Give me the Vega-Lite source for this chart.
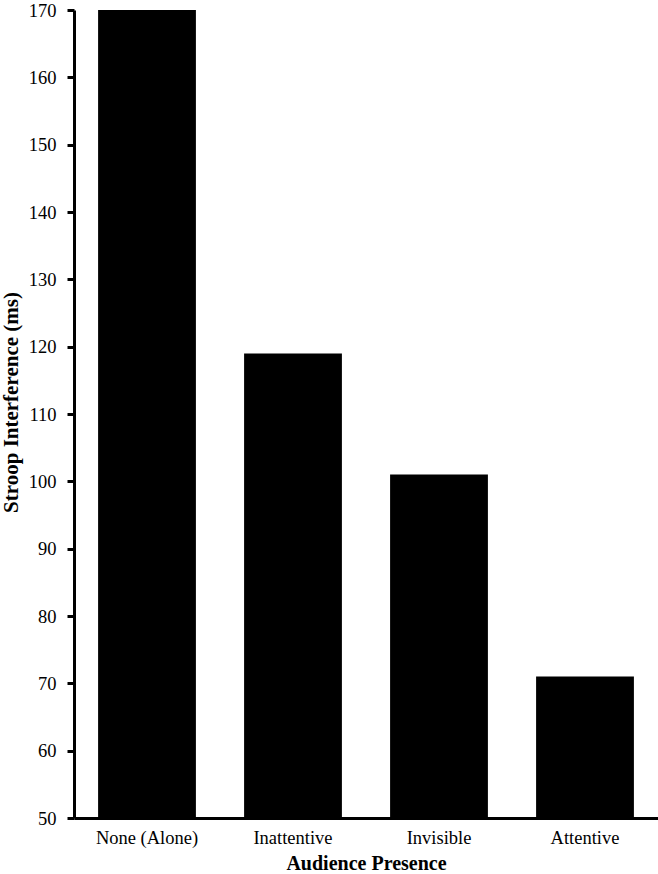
{
  "$schema": "https://vega.github.io/schema/vega-lite/v6.json",
  "width": 584,
  "height": 808,
  "autosize": "none",
  "padding": {"left": 74, "top": 10, "right": 0, "bottom": 56},
  "background": "white",
  "data": {
    "values": [
      {"presence": "None (Alone)", "interference": 170},
      {"presence": "Inattentive", "interference": 119},
      {"presence": "Invisible", "interference": 101},
      {"presence": "Attentive", "interference": 71}
    ]
  },
  "mark": {"type": "bar", "color": "black", "clip": true},
  "encoding": {
    "x": {
      "field": "presence",
      "type": "nominal",
      "sort": null,
      "title": "Audience Presence",
      "scale": {"paddingInner": 0.33, "paddingOuter": 0.165},
      "axis": {
        "labelAngle": 0,
        "ticks": false,
        "labelPadding": 10,
        "titleY": 51,
        "titleBaseline": "alphabetic",
        "domainWidth": 3
      }
    },
    "y": {
      "field": "interference",
      "type": "quantitative",
      "title": "Stroop Interference (ms)",
      "scale": {"domain": [50, 170], "nice": false, "zero": false},
      "axis": {
        "values": [50, 60, 70, 80, 90, 100, 110, 120, 130, 140, 150, 160, 170],
        "grid": false,
        "tickSize": 7,
        "tickWidth": 3,
        "labelPadding": 11,
        "titleX": -63,
        "titleY": 392,
        "titleAngle": -90,
        "titleAlign": "center",
        "titleBaseline": "middle",
        "titleFontSize": 21,
        "domainWidth": 3
      }
    }
  },
  "config": {
    "view": {"stroke": null},
    "font": "Liberation Serif",
    "axis": {
      "domainColor": "black",
      "tickColor": "black",
      "labelColor": "black",
      "titleColor": "black",
      "labelFont": "Liberation Serif",
      "titleFont": "Liberation Serif",
      "labelFontSize": 18.5,
      "titleFontSize": 20,
      "titleFontWeight": "bold"
    }
  }
}
